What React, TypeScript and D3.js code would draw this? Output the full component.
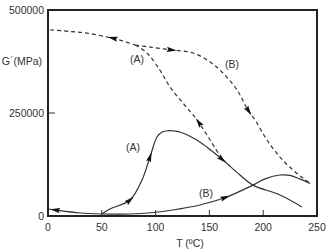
import * as d3 from "d3";
import { useRef, useEffect, ReactElement } from "react";

// temperature (ºC) and modulus (MPa) for each branch of the G' loops
const tempShared = [2, 20, 36, 55, 67, 81];
const modShared = [452000, 448000, 444000, 434500, 427000, 415000];

const tempDashA = [81, 92, 104, 113.4, 125.5, 138.5, 150.6, 162.6];
const modDashA = [415000, 395600, 354000, 313000, 274000, 233000, 184500, 134000];

const tempDashB = [81, 94.8, 115, 134.8, 150.6, 162.6, 175.7, 185.9, 192.4, 203.5, 215.6, 227.7, 237, 243.5];
const modDashB = [415000, 410000, 403000, 395600, 374000, 347000, 306000, 257000, 233000, 184500, 143000, 111600, 92000, 80000];

const tempSolidA = [50, 57.6, 76.2, 87.4, 94.8, 101.3, 106, 112, 118, 122.7, 136.6, 147.8, 162.6, 178.4, 190.5, 215.6, 236];
const modSolidA = [4900, 17000, 38800, 87400, 143200, 191700, 203900, 207000, 206300, 203900, 187000, 167000, 136000, 99500, 75000, 51000, 22000];

const tempSolidB = [0, 6.5, 29.7, 50.2, 76, 98, 116, 141, 166, 190.5, 201.7, 215.6, 225, 234, 243.5];
const modSolidB = [17000, 14600, 7300, 4900, 4900, 8500, 14600, 26700, 46000, 75000, 90000, 99500, 98500, 90000, 79000];

const xTicks = [0, 50, 100, 150, 200, 250];
const yTicks = [0, 250000, 500000];

// arrow heads: which curve, temperature where they sit, direction along the curve
const arrowCurve = ["shared", "dashB", "dashB", "dashA", "solidA", "solidA", "solidA", "solidB", "solidB"];
const arrowTemp = [60, 115, 186.5, 140, 76.2, 94.8, 162, 165, 6.5];
const arrowDir = [-1, 1, 1, -1, 1, 1, 1, 1, -1];

const curveLabels = ["(A)", "(B)", "(A)", "(B)"];
const labelTemp = [82.7, 171, 79, 146.8];
const labelMod = [381000, 369000, 167500, 55800];

const zip = (xs: number[], ys: number[]) => xs.map((x, i) => [x, ys[i]] as [number, number]);

const App = (): ReactElement => {
    const svgRef = useRef<SVGSVGElement>(null);
    const width = 330;
    const height = 250;
    const marginLeft = 48;
    const marginRight = 13;
    const marginTop = 10;
    const marginBottom = 34;

    useEffect(() => {
        if (!svgRef.current) return;
        const svg = d3.select(svgRef.current);
        svg.selectAll("*").remove();

        const x = d3.scaleLinear().domain([0, 250]).range([marginLeft, width - marginRight]);
        const y = d3.scaleLinear().domain([0, 500000]).range([height - marginBottom, marginTop]);

        const line = d3.line<[number, number]>()
            .x((d) => x(d[0]))
            .y((d) => y(d[1]))
            .curve(d3.curveCatmullRom.alpha(0.5));

        const curves: { [k: string]: { pts: [number, number][]; dashed: boolean } } = {
            shared: { pts: zip(tempShared, modShared), dashed: true },
            dashA: { pts: zip(tempDashA, modDashA), dashed: true },
            dashB: { pts: zip(tempDashB, modDashB), dashed: true },
            solidA: { pts: zip(tempSolidA, modSolidA), dashed: false },
            solidB: { pts: zip(tempSolidB, modSolidB), dashed: false },
        };

        const font = "'Liberation Sans', Arial, sans-serif";
        const ink = "#333";

        const paths: { [k: string]: SVGPathElement } = {};
        Object.keys(curves).forEach((k) => {
            const c = curves[k];
            const p = svg.append("path")
                .attr("d", line(c.pts))
                .attr("fill", "none")
                .attr("stroke", ink)
                .attr("stroke-width", 1.2)
                .attr("stroke-dasharray", c.dashed ? "4,3" : null);
            paths[k] = p.node() as SVGPathElement;
        });

        // arrow heads placed on the drawn paths
        arrowCurve.forEach((k, i) => {
            const node = paths[k];
            const total = node.getTotalLength();
            const px = x(arrowTemp[i]);
            let lo = 0, hi = total;
            for (let n = 0; n < 40; n++) {
                const mid = (lo + hi) / 2;
                if (node.getPointAtLength(mid).x < px) lo = mid; else hi = mid;
            }
            const l = (lo + hi) / 2;
            const p0 = node.getPointAtLength(Math.max(0, l - 2));
            const p1 = node.getPointAtLength(Math.min(total, l + 2));
            const pt = node.getPointAtLength(l);
            let ang = Math.atan2(p1.y - p0.y, p1.x - p0.x) * 180 / Math.PI;
            if (arrowDir[i] < 0) ang += 180;
            svg.append("path")
                .attr("d", "M5,0 L-5,-2.6 L-3.5,0 L-5,2.6 Z")
                .attr("fill", "#111")
                .attr("transform", `translate(${pt.x},${pt.y}) rotate(${ang})`);
        });

        curveLabels.forEach((t, i) => {
            svg.append("text")
                .attr("x", x(labelTemp[i]))
                .attr("y", y(labelMod[i]))
                .attr("text-anchor", "middle")
                .attr("dominant-baseline", "central")
                .attr("font-family", font)
                .attr("font-size", 10.5)
                .attr("fill", ink)
                .text(t);
        });

        // inward ticks
        svg.append("g")
            .selectAll("line")
            .data(xTicks.slice(1, -1))
            .enter()
            .append("line")
            .attr("x1", (d) => x(d))
            .attr("x2", (d) => x(d))
            .attr("y1", y(0))
            .attr("y2", y(0) - 6)
            .attr("stroke", ink)
            .attr("stroke-width", 1);

        svg.append("g")
            .selectAll("line")
            .data(yTicks.slice(1, -1))
            .enter()
            .append("line")
            .attr("x1", x(0))
            .attr("x2", x(0) + 7)
            .attr("y1", (d) => y(d))
            .attr("y2", (d) => y(d))
            .attr("stroke", ink)
            .attr("stroke-width", 1);

        svg.append("g")
            .selectAll("text")
            .data(xTicks)
            .enter()
            .append("text")
            .attr("x", (d) => x(d))
            .attr("y", y(0) + 11)
            .attr("text-anchor", "middle")
            .attr("dominant-baseline", "central")
            .attr("font-family", font)
            .attr("font-size", 10.5)
            .attr("fill", ink)
            .text((d) => d);

        svg.append("g")
            .selectAll("text")
            .data(yTicks)
            .enter()
            .append("text")
            .attr("x", x(0) - 4)
            .attr("y", (d) => y(d))
            .attr("text-anchor", "end")
            .attr("dominant-baseline", "central")
            .attr("font-family", font)
            .attr("font-size", 10.5)
            .attr("fill", ink)
            .text((d) => d);

        // frame
        svg.append("rect")
            .attr("x", x(0))
            .attr("y", y(500000))
            .attr("width", x(250) - x(0))
            .attr("height", y(0) - y(500000))
            .attr("fill", "none")
            .attr("stroke", "#222")
            .attr("stroke-width", 2);

        svg.append("text")
            .attr("x", 190)
            .attr("y", height - 7)
            .attr("text-anchor", "middle")
            .attr("dominant-baseline", "central")
            .attr("font-family", font)
            .attr("font-size", 10.5)
            .attr("fill", ink)
            .text("T (ºC)");

        svg.append("text")
            .attr("x", 42)
            .attr("y", 61)
            .attr("text-anchor", "end")
            .attr("dominant-baseline", "central")
            .attr("font-family", font)
            .attr("font-size", 10.5)
            .attr("fill", ink)
            .text("G´(MPa)");

        return () => {
            svg.selectAll("*").remove();
        };
    }, []);

    return (
        <svg
            ref={svgRef}
            width={width}
            height={height}
            style={{ position: "absolute", left: 0, top: 0, background: "#fff" }}
        />
    );
};

export default App;
